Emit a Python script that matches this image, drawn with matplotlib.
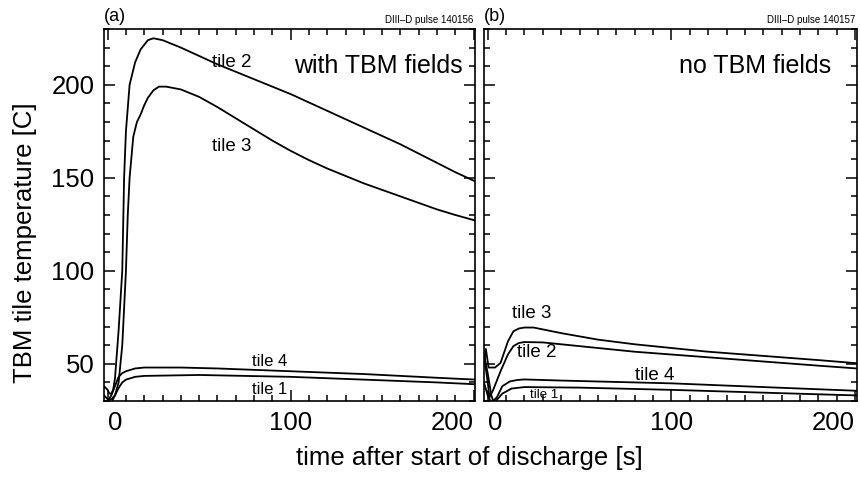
import numpy as np
import matplotlib
matplotlib.use("Agg")
import matplotlib.pyplot as plt
from matplotlib.ticker import MultipleLocator

plt.rcParams['font.family'] = ['Liberation Sans', 'DejaVu Sans']

# (a) pulse 140156, with TBM fields
a_t2_t = [-2, 0, 1, 2, 3, 4, 6, 8, 9, 10, 12, 15, 18, 22, 25, 30, 40, 50, 60, 70, 80, 90, 100,
          110, 120, 130, 140, 150, 160, 170, 180, 190, 201]
a_t2_v = [38, 36, 34, 34, 36, 42, 68, 100, 150, 175, 200, 212, 219, 224, 225, 224, 220, 215.5, 211,
          207, 203, 199, 195, 190.5, 186, 181.5, 177, 172.5, 168, 163, 158, 153, 148]
a_t3_t = [-2, 0, 2, 4, 6, 8, 10, 11, 12, 14, 16, 18, 20, 22, 25, 28, 32, 40, 50, 60, 70, 80, 90, 100,
          110, 120, 130, 140, 150, 160, 170, 180, 190, 201]
a_t3_v = [33, 31, 31, 33, 40, 60, 100, 130, 150, 172, 180, 184, 189, 193, 197, 199, 199, 197.5, 193.5,
          188, 182, 176, 170, 164.5, 159.5, 155, 151, 147, 143.5, 140, 136.5, 133, 130, 127]
a_t4_t = [0, 2, 4, 6, 8, 10, 15, 20, 40, 60, 100, 140, 180, 201]
a_t4_v = [30, 33, 38, 43, 45, 46, 47.5, 48, 48, 47.5, 46, 44.5, 42.5, 41.5]
a_t1_t = [2, 4, 6, 8, 10, 15, 20, 50, 100, 140, 180, 201]
a_t1_v = [29, 33, 37, 40, 41.5, 43, 43.5, 44, 43, 41.5, 40, 39]

# (b) pulse 140157, no TBM fields
b_t3_t = [-2, -1, 0.5, 4, 7, 11, 14, 17, 20, 25, 30, 40, 60, 80, 100, 120, 140, 160, 180, 201]
b_t3_v = [50, 58, 48, 48, 50.5, 62, 67.5, 69, 69.5, 69.5, 68.5, 66.5, 63, 60.5, 58.5, 56.5, 55, 53.5, 52, 50.3]
b_t2_t = [-2, 0, 1, 3, 7, 11, 14, 17, 20, 30, 50, 80, 100, 140, 180, 201]
b_t2_v = [55, 40, 32, 36, 46, 55, 59.5, 61.2, 61.7, 61.5, 59.5, 56.5, 55, 52, 49, 47.5]
b_t4_t = [-2, 0, 2, 3, 5, 8, 12, 16, 20, 40, 100, 150, 201]
b_t4_v = [55, 45, 33, 30, 32, 38, 40.5, 41.3, 41.6, 41, 39.5, 37.5, 35.5]
b_t1_t = [-2, 0, 2, 4, 8, 13, 20, 50, 100, 150, 201]
b_t1_v = [40, 33, 29, 29.5, 34, 36.7, 37.5, 37.2, 36, 34.5, 33]

xticks = [0, 100, 200]

fig = plt.figure(figsize=(8.6, 4.79), dpi=100)
ax_a = fig.add_axes([0.1209, 0.1628, 0.4320, 0.7767])
ax_b = fig.add_axes([0.5628, 0.1628, 0.4337, 0.7767])

for ax in (ax_a, ax_b):
    ax.set_xlim(-2, 201)
    ax.set_ylim(30, 230)
    ax.set_xticks(xticks)
    ax.set_xticklabels([str(v) for v in xticks])
    ax.xaxis.set_minor_locator(MultipleLocator(10))
    ax.yaxis.set_major_locator(MultipleLocator(50))
    ax.yaxis.set_minor_locator(MultipleLocator(10))
    ax.tick_params(which='both', direction='in', top=True, right=True, width=1.1,
                   labelsize=18.5, colors='black', pad=7)
    ax.tick_params(which='major', length=8)
    ax.tick_params(which='minor', length=4)
    # IDL-style: end labels kept inside the panel
    labels = ax.get_xticklabels()
    labels[0].set_ha('left')
    labels[-1].set_ha('right')
    for s in ax.spines.values():
        s.set_linewidth(1.2)

ax_b.tick_params(labelleft=False)

lw = 1.3
ax_a.plot(a_t2_t, a_t2_v, color='black', lw=lw)
ax_a.plot(a_t3_t, a_t3_v, color='black', lw=lw)
ax_a.plot(a_t4_t, a_t4_v, color='black', lw=lw)
ax_a.plot(a_t1_t, a_t1_v, color='black', lw=lw)

ax_b.plot(b_t3_t, b_t3_v, color='black', lw=lw)
ax_b.plot(b_t2_t, b_t2_v, color='black', lw=lw)
ax_b.plot(b_t4_t, b_t4_v, color='black', lw=lw)
ax_b.plot(b_t1_t, b_t1_v, color='black', lw=lw)

# curve labels
ax_a.text(57, 212, 'tile 2', fontsize=13.5, va='center')
ax_a.text(57, 167, 'tile 3', fontsize=13.5, va='center')
ax_a.text(79, 51, 'tile 4', fontsize=12, va='center')
ax_a.text(79, 36, 'tile 1', fontsize=12, va='center')
ax_a.text(194, 210, 'with TBM fields', fontsize=18, ha='right', va='center')

ax_b.text(13, 77, 'tile 3', fontsize=13.5, va='center')
ax_b.text(16, 56, 'tile 2', fontsize=13.5, va='center')
ax_b.text(80, 43.5, 'tile 4', fontsize=13.5, va='center')
ax_b.text(23, 33, 'tile 1', fontsize=9.5, va='center')
ax_b.text(187, 210, 'no TBM fields', fontsize=18, ha='right', va='center')

# panel tags and pulse numbers
ax_a.text(0.0, 1.01, '(a)', transform=ax_a.transAxes, fontsize=13, ha='left', va='bottom')
ax_a.text(0.995, 1.012, 'DIII\u2013D pulse 140156', transform=ax_a.transAxes, fontsize=7, ha='right', va='bottom')
ax_b.text(0.0, 1.01, '(b)', transform=ax_b.transAxes, fontsize=13, ha='left', va='bottom')
ax_b.text(0.995, 1.012, 'DIII\u2013D pulse 140157', transform=ax_b.transAxes, fontsize=7, ha='right', va='bottom')

fig.text(0.546, 0.044, 'time after start of discharge [s]', fontsize=18.5, ha='center', va='center')
fig.text(0.029, 0.493, 'TBM tile temperature [C]', fontsize=18.5, ha='center', va='center', rotation=90)

fig.savefig('out.png', dpi=100)
